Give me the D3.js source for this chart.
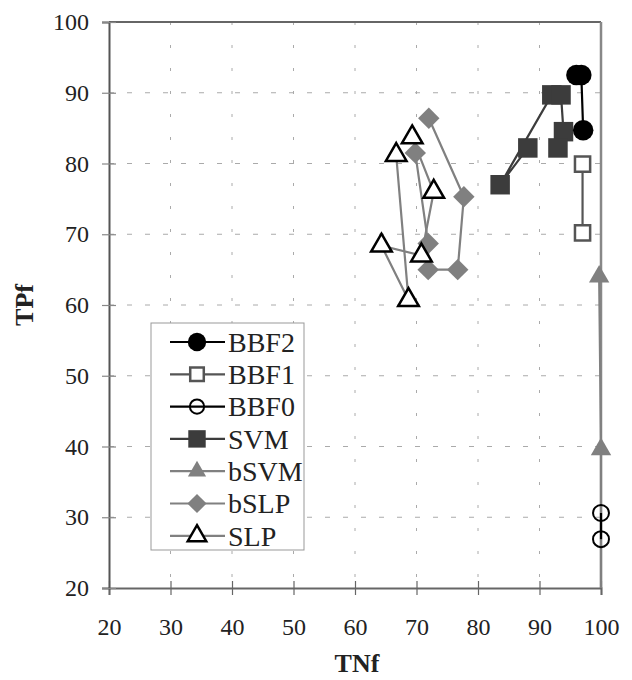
<!DOCTYPE html>
<html>
<head>
<meta charset="utf-8">
<title>TPf vs TNf</title>
<script src="https://d3js.org/d3.v7.min.js"></script>
<style>
  body { margin: 0; background: #fff; }
  svg text { font-family: "Liberation Serif", "Times New Roman", serif; fill: #222; }
</style>
</head>
<body>
<div id="chart"></div>
<script>
"use strict"

// tick values
var xTicks = [20, 30, 40, 50, 60, 70, 80, 90, 100];
var yTicks = [20, 30, 40, 50, 60, 70, 80, 90, 100];

// series values (TNf, TPf)
var seriesNames = ["BBF2", "BBF1", "BBF0", "SVM", "bSVM", "bSLP", "SLP"];

var bbf2TN = [96.0, 96.8, 97.1];
var bbf2TP = [92.5, 92.5, 84.7];

var bbf1TN = [97.0, 97.0];
var bbf1TP = [79.9, 70.2];

var bbf0TN = [100, 100];
var bbf0TP = [30.6, 26.9];

var svmTN = [88.1, 83.6, 92.0, 93.5, 93.9, 93.0];
var svmTP = [82.2, 77.0, 89.7, 89.7, 84.5, 82.2];

var bsvmTN = [99.7, 100, 100];
var bsvmTP = [64.0, 39.6, 0];

var bslpTN = [72.0, 77.7, 76.7, 71.9, 71.9, 69.8];
var bslpTP = [86.4, 75.3, 65.0, 65.0, 68.7, 81.5];

var slpTN = [69.3, 72.8, 70.8, 64.3, 68.7, 66.7];
var slpTP = [83.7, 76.0, 67.0, 68.4, 60.7, 81.2];

var values = {
  BBF2: [bbf2TN, bbf2TP], BBF1: [bbf1TN, bbf1TP], BBF0: [bbf0TN, bbf0TP],
  SVM: [svmTN, svmTP], bSVM: [bsvmTN, bsvmTP], bSLP: [bslpTN, bslpTP], SLP: [slpTN, slpTP]
};

// look of each series
var styles = {
  BBF2: { line: "#000", sym: d3.symbolCircle, size: 330, fill: "#000", stroke: "none", sw: 0 },
  BBF1: { line: "#555", sym: d3.symbolSquare, size: 230, fill: "#fff", stroke: "#555", sw: 2.5 },
  BBF0: { line: "#000", sym: d3.symbolCircle, size: 200, fill: "none", stroke: "#000", sw: 2 },
  SVM:  { line: "#3c3c3c", sym: d3.symbolSquare, size: 380, fill: "#3c3c3c", stroke: "none", sw: 0 },
  bSVM: { line: "#808080", sym: d3.symbolTriangle, size: 180, fill: "#808080", stroke: "none", sw: 0 },
  bSLP: { line: "#808080", sym: d3.symbolSquare, size: 230, fill: "#808080", stroke: "none", sw: 0, rot: 45 },
  SLP:  { line: "#808080", sym: d3.symbolTriangle, size: 185, fill: "#fff", stroke: "#000", sw: 2.5 }
};

var drawOrder = ["bSLP", "SLP", "bSVM", "SVM", "BBF0", "BBF1", "BBF2"];

function desenha() {
  var W = 632, H = 680;
  var margin = { top: 22, right: 31, bottom: 92, left: 109 };
  var w = W - margin.left - margin.right,
      h = H - margin.top - margin.bottom;

  var svg = d3.select("#chart").append("svg")
      .attr("width", W).attr("height", H);
  var g = svg.append("g")
      .attr("transform", "translate(" + margin.left + "," + margin.top + ")");

  var x = d3.scaleLinear().domain([20, 100]).range([0, w]);
  var y = d3.scaleLinear().domain([20, 100]).range([h, 0]);

  // grid
  g.append("g").selectAll("line")
    .data(yTicks.slice(1, -1)).enter().append("line")
      .attr("x1", 0).attr("x2", w)
      .attr("y1", d => y(d)).attr("y2", d => y(d))
      .attr("stroke", "#aaa").attr("stroke-width", 1)
      .attr("stroke-dasharray", "5,13");
  g.append("g").selectAll("line")
    .data(xTicks.slice(1, -1)).enter().append("line")
      .attr("x1", d => x(d)).attr("x2", d => x(d))
      .attr("y1", 0).attr("y2", h)
      .attr("stroke", "#aaa").attr("stroke-width", 1)
      .attr("stroke-dasharray", "3,20");

  // frame top / right
  g.append("line").attr("x1", 0).attr("x2", w).attr("y1", 0).attr("y2", 0)
    .attr("stroke", "#666").attr("stroke-width", 2);
  g.append("line").attr("x1", w).attr("x2", w).attr("y1", 0).attr("y2", h)
    .attr("stroke", "#888").attr("stroke-width", 2.5);

  // axes
  var ax = g.append("g")
      .attr("transform", "translate(0," + h + ")")
      .call(d3.axisBottom(x).tickValues(xTicks).tickSize(7).tickPadding(23));
  ax.select(".domain").attr("stroke", "#666").attr("stroke-width", 2);
  ax.selectAll(".tick line").attr("y1", -7).attr("stroke", "#666").attr("stroke-width", 1.2);
  ax.selectAll("text").style("font-size", "24px").attr("fill", "#222");

  var ay = g.append("g")
      .call(d3.axisLeft(y).tickValues(yTicks).tickSize(7).tickPadding(13));
  ay.select(".domain").attr("stroke", "#555").attr("stroke-width", 2);
  ay.selectAll(".tick line").attr("x1", 7).attr("stroke", "#888").attr("stroke-width", 1.2);
  ay.selectAll("text").style("font-size", "24px").attr("fill", "#222");

  // series
  svg.append("defs").append("clipPath").attr("id", "plotclip")
    .append("rect").attr("x", -60).attr("y", -20).attr("width", w + 120).attr("height", h + 20);
  var plot = g.append("g").attr("clip-path", "url(#plotclip)");

  drawOrder.forEach(function (name) {
    var st = styles[name];
    var pts = values[name][0].map((tn, i) => [tn, values[name][1][i]]);
    var sg = plot.append("g");
    sg.append("path")
      .attr("d", d3.line().x(d => x(d[0])).y(d => y(d[1]))(pts))
      .attr("fill", "none").attr("stroke", st.line).attr("stroke-width", 2.2);
    sg.selectAll("path.m").data(pts).enter().append("path")
      .attr("class", "m")
      .attr("d", d3.symbol().type(st.sym).size(st.size))
      .attr("transform", d => "translate(" + x(d[0]) + "," + y(d[1]) + ")" + (st.rot ? " rotate(" + st.rot + ")" : ""))
      .attr("fill", st.fill).attr("stroke", st.stroke).attr("stroke-width", st.sw);
  });

  // legend
  var lg = svg.append("g").attr("transform", "translate(151,323)");
  lg.append("rect").attr("width", 153).attr("height", 227)
    .attr("fill", "#fff").attr("stroke", "#999").attr("stroke-width", 1);
  seriesNames.forEach(function (name, i) {
    var st = styles[name];
    var yy = 19 + i * 32.3;
    lg.append("line").attr("x1", 19).attr("x2", 74).attr("y1", yy).attr("y2", yy)
      .attr("stroke", st.line).attr("stroke-width", 2.2);
    lg.append("path")
      .attr("d", d3.symbol().type(st.sym).size(st.size * 0.8))
      .attr("transform", "translate(46," + yy + ")" + (st.rot ? " rotate(" + st.rot + ")" : ""))
      .attr("fill", st.fill).attr("stroke", st.stroke).attr("stroke-width", st.sw);
    lg.append("text").attr("x", 77).attr("y", yy).attr("dy", "0.35em")
      .style("font-size", "28px").text(name);
  });

  // axis titles
  svg.append("text")
    .attr("transform", "translate(33,305) rotate(-90)")
    .attr("text-anchor", "middle")
    .style("font-size", "26px").style("font-weight", "bold")
    .text("TPf");
  svg.append("text")
    .attr("x", 357).attr("y", 672)
    .attr("text-anchor", "middle")
    .style("font-size", "26px").style("font-weight", "bold")
    .text("TNf");
}

desenha();
</script>
</body>
</html>
